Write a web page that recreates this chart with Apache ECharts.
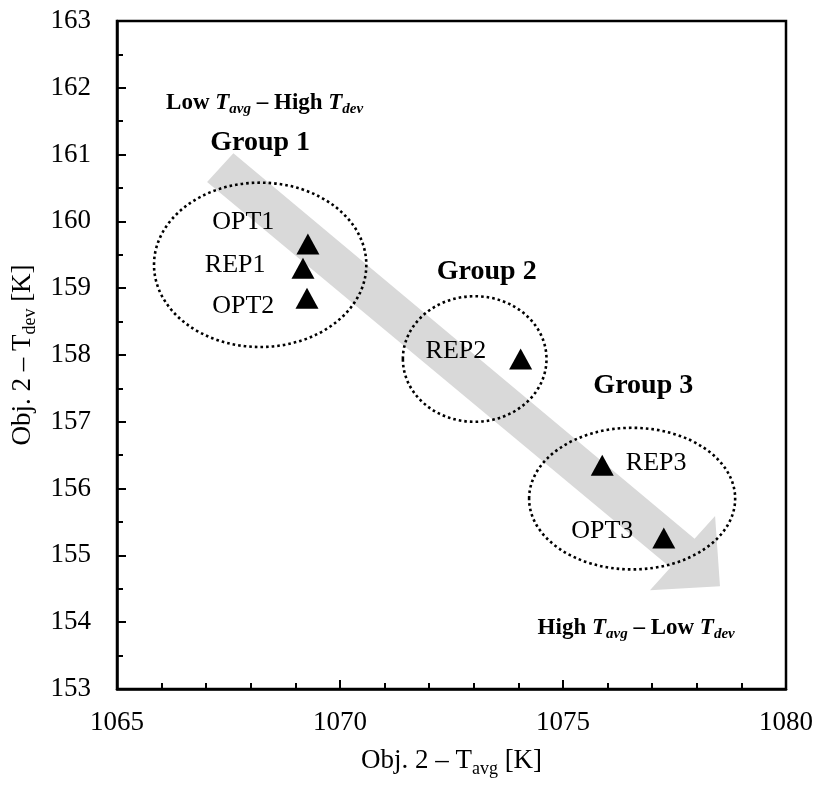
<!DOCTYPE html>
<html><head><meta charset="utf-8">
<script src="https://cdn.jsdelivr.net/npm/echarts@6/dist/echarts.min.js"></script>
<style>html,body{margin:0;padding:0;background:#fff}#c{width:820px;height:790px}</style>
</head><body><div id="c"></div>
<script>
// ---- data ----
const pointNames = ['OPT1','REP1','OPT2','REP2','REP3','OPT3'];
const tAvg = [1069.28, 1069.17, 1069.26, 1074.05, 1075.88, 1077.26];
const tDev = [159.66, 159.30, 158.85, 157.94, 156.35, 155.26];

const labelTexts = ['OPT1','REP1','OPT2','REP2','REP3','OPT3'];
const labelX = [1067.83, 1067.65, 1067.83, 1072.60, 1077.09, 1075.88];
const labelY = [159.99, 159.35, 158.73, 158.05, 156.38, 155.37];

const groupTexts = ['Group 1','Group 2','Group 3'];
const groupX = [1068.21, 1073.29, 1076.80];
const groupY = [161.17, 159.25, 157.54];

const ellipseCX = [1068.21, 1073.02, 1076.55];
const ellipseCY = [159.35, 157.94, 155.85];
const ellipseRX = [2.38, 1.61, 2.31];
const ellipseRY = [1.23, 0.94, 1.06];

const arrowX = [1067.61, 1077.95, 1078.41, 1078.52, 1076.95, 1077.41, 1067.02];
const arrowY = [161.02, 155.25, 155.59, 154.54, 154.48, 154.82, 160.59];

const noteTexts = ['{b|Low }{i|T}{s|avg}{b| – High }{i|T}{s|dev}', '{b|High }{i|T}{s|avg}{b| – Low }{i|T}{s|dev}'];
const noteX = [1068.31, 1076.64];
const noteY = [161.77, 153.91];

const xTicks = [1065, 1080, 5];
const yTicks = [153, 163, 1];

// ---- chart ----
const F = '"Liberation Serif", "Times New Roman", serif';
const chart = echarts.init(document.getElementById('c'));
const axisCommon = {
  axisLine: {show: true, lineStyle: {color: '#000', width: 2.5}},
  axisTick: {show: true, inside: true, length: 9, lineStyle: {color: '#000', width: 2}},
  minorTick: {show: true, length: 6, lineStyle: {color: '#000', width: 2}},
  splitLine: {show: false},
  axisLabel: {color: '#000', fontFamily: F, fontSize: 27, formatter: v => String(v)}
};
const nameRich = {
  n: {fontFamily: F, fontSize: 27, color: '#000'},
  sub: {fontFamily: F, fontSize: 18, color: '#000', padding: [16, 0, 0, 0]}
};
const noteRich = {
  b: {fontFamily: F, fontSize: 23, fontWeight: 'bold', color: '#000'},
  i: {fontFamily: F, fontSize: 23, fontWeight: 'bold', fontStyle: 'italic', color: '#000'},
  s: {fontFamily: F, fontSize: 15, fontWeight: 'bold', fontStyle: 'italic', color: '#000', padding: [12, 0, 0, 0]}
};

chart.setOption({
  backgroundColor: '#fff',
  animation: false,
  grid: {left: 117, right: 34, top: 21, bottom: 101, show: true, borderColor: '#000', borderWidth: 2.5, backgroundColor: 'transparent'},
  xAxis: Object.assign({}, axisCommon, {
    type: 'value', min: xTicks[0], max: xTicks[1], interval: xTicks[2],
    minorTick: Object.assign({}, axisCommon.minorTick, {splitNumber: 5}),
    axisLabel: Object.assign({}, axisCommon.axisLabel, {margin: 20}),
    name: '{n|Obj. 2 – T}{sub|avg}{n| [K]}', nameLocation: 'middle', nameGap: 55,
    nameTextStyle: {rich: nameRich}
  }),
  yAxis: Object.assign({}, axisCommon, {
    type: 'value', min: yTicks[0], max: yTicks[1], interval: yTicks[2],
    minorTick: Object.assign({}, axisCommon.minorTick, {splitNumber: 2}),
    axisLabel: Object.assign({}, axisCommon.axisLabel, {margin: 26}),
    name: '{n|Obj. 2 – T}{sub|dev}{n| [K]}', nameLocation: 'middle', nameGap: 76, nameRotate: 90,
    nameTextStyle: {rich: nameRich}
  }),
  series: [
    {
      type: 'custom', z: 1, silent: true,
      data: [0],
      renderItem: function (params, api) {
        const pts = arrowX.map((x, i) => api.coord([x, arrowY[i]]));
        return {type: 'polygon', shape: {points: pts}, style: {fill: '#d9d9d9', stroke: null}};
      }
    },
    {
      type: 'custom', z: 2, silent: true,
      data: ellipseCX.map((x, i) => [x, ellipseCY[i], ellipseRX[i], ellipseRY[i]]),
      renderItem: function (params, api) {
        const c = api.coord([api.value(0), api.value(1)]);
        const s = api.size([api.value(2), api.value(3)]);
        return {type: 'ellipse', shape: {cx: c[0], cy: c[1], rx: s[0], ry: s[1]},
          style: {fill: null, stroke: '#000', lineWidth: 2.6, lineDash: [2.6, 3]}};
      }
    },
    {
      type: 'scatter', z: 5, symbol: 'triangle', symbolSize: [23, 21],
      itemStyle: {color: '#000', opacity: 1},
      data: tAvg.map((x, i) => [x, tDev[i], pointNames[i]])
    },
    {
      type: 'scatter', z: 6, symbolSize: 0, silent: true,
      itemStyle: {opacity: 1},
      data: labelX.map((x, i) => [x, labelY[i], labelTexts[i]]),
      label: {show: true, position: 'inside', formatter: p => p.data[2], fontFamily: F, fontSize: 26, color: '#000'}
    },
    {
      type: 'scatter', z: 6, symbolSize: 0, silent: true,
      itemStyle: {opacity: 1},
      data: groupX.map((x, i) => [x, groupY[i], groupTexts[i]]),
      label: {show: true, position: 'inside', formatter: p => p.data[2], fontFamily: F, fontSize: 28, fontWeight: 'bold', color: '#000'}
    },
    {
      type: 'scatter', z: 6, symbolSize: 0, silent: true,
      itemStyle: {opacity: 1},
      data: noteX.map((x, i) => [x, noteY[i], noteTexts[i]]),
      label: {show: true, position: 'inside', formatter: p => p.data[2], color: '#000', rich: noteRich}
    }
  ]
});
</script></body></html>
